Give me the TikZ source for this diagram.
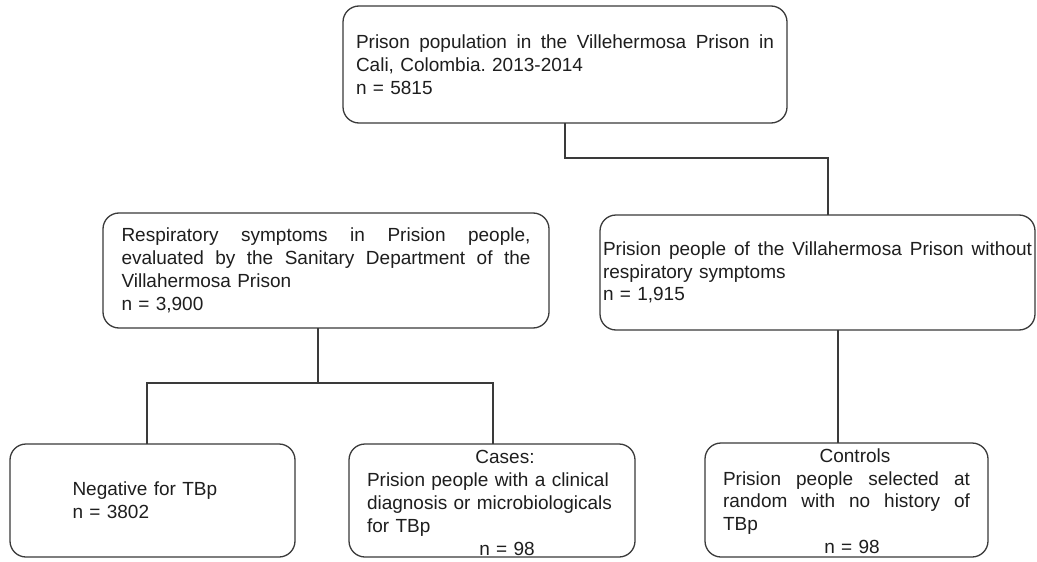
\documentclass[tikz,border=0pt]{standalone}
\usepackage{fontspec}
\setmainfont{Liberation Sans}
\definecolor{linegray}{HTML}{3A3A3A}
\definecolor{textgray}{HTML}{1E1E1E}
\newcommand{\jline}[2]{\makebox[#1][s]{\spaceskip=0.278em plus 3em\xspaceskip=0.278em plus 3em #2}}
\begin{document}
\begin{tikzpicture}[x=1pt,y=-1pt,
  box/.style={draw=linegray, line width=1.3pt, rounded corners=16pt,
    inner sep=0pt, outer sep=0pt, align=left, text=textgray,
    font={\fontsize{19}{22.8}\selectfont\parindent=0pt}},
  conn/.style={draw=linegray, line width=1.3pt}]
\useasboundingbox (0,0) rectangle (1037,562);
\fill[white] (0,0) rectangle (1037,562);

\node[box, minimum width=444pt, minimum height=117pt, text width=418pt] (top) at (565,64.5)
 {\jline{418pt}{Prison population in the Villehermosa Prison in}\\
  Cali, Colombia.\ 2013-2014\\
  n = 5815};

\node[box, minimum width=446pt, minimum height=115pt, text width=409pt] (left) at (326,270.5)
 {\jline{409pt}{Respiratory symptoms in Prision people,}\\
  \jline{409pt}{evaluated by the Sanitary Department of the}\\
  Villahermosa Prison\\
  n = 3,900};

\node[box, minimum width=435pt, minimum height=115pt, text width=429pt] (right) at (817.5,272.5)
 {\jline{429pt}{Prision people of the Villahermosa Prison without}\\
  respiratory symptoms\\
  n = 1,915};

\node[box, minimum width=285pt, minimum height=113pt, text width=160pt] (bl) at (152.5,500.5)
 {Negative for TBp\\
  n = 3802};

\node[box, minimum width=286pt, minimum height=113pt, text width=250pt] (bm) at (492,500.5)
 {\rule{0pt}{18pt}\makebox[250pt]{\hspace{26pt}Cases:}\\
  Prision people with a clinical\\
  diagnosis or microbiologicals\\
  for TBp\\
  \makebox[250pt]{\hspace{30pt}n = 98}};

\node[box, minimum width=283pt, minimum height=114pt, text width=247pt] (ctrl) at (846.5,500)
 {\rule{0pt}{16pt}\makebox[247pt]{\hspace{17pt}Controls}\\
  \jline{247pt}{Prision people selected at}\\
  \jline{247pt}{random with no history of}\\
  TBp\\
  \makebox[247pt]{\hspace{11pt}n = 98}};

\draw[conn] (top.south) -- ++(0,35) -| ([xshift=10.5pt]right.north);
\draw[conn] ([xshift=-8pt]left.south) -- ++(0,55);
\draw[conn] ([xshift=-5.5pt]bl.north) -- ++(0,-61) -| ([xshift=1pt]bm.north);
\draw[conn] ([xshift=20.5pt]right.south) -- ([xshift=-8.5pt]ctrl.north);
\end{tikzpicture}
\end{document}
